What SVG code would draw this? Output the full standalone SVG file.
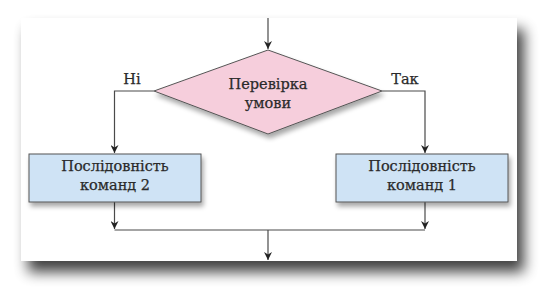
<svg xmlns="http://www.w3.org/2000/svg" width="542" height="300" viewBox="0 0 542 300">
  <defs>
    <filter id="panelShadow" x="-10%" y="-15%" width="125%" height="145%">
      <feGaussianBlur in="SourceAlpha" stdDeviation="7"/>
      <feOffset dx="7" dy="11" result="b"/>
      <feComponentTransfer><feFuncA type="linear" slope="0.75"/></feComponentTransfer>
      <feMerge><feMergeNode/><feMergeNode in="SourceGraphic"/></feMerge>
    </filter>
    <filter id="shapeShadow" x="-10%" y="-10%" width="130%" height="150%">
      <feGaussianBlur in="SourceAlpha" stdDeviation="2.5"/>
      <feOffset dx="2" dy="4" result="b"/>
      <feComponentTransfer><feFuncA type="linear" slope="0.35"/></feComponentTransfer>
      <feMerge><feMergeNode/><feMergeNode in="SourceGraphic"/></feMerge>
    </filter>
    <marker id="arrow" viewBox="0 0 10 10" refX="10" refY="5" markerWidth="8" markerHeight="8" markerUnits="userSpaceOnUse" orient="auto">
      <path d="M0,0 L10,5 L0,10 L3,5 Z" fill="#222"/>
    </marker>
  </defs>
  <style>
    .conn { fill: none; stroke: #4a4a4a; stroke-width: 1.2; }
    .lbl { font-family: "DejaVu Serif", "Liberation Serif", serif; font-size: 14.5px; fill: #2a2a2a; stroke: #2a2a2a; stroke-width: 0.25; text-anchor: middle; }
    .box { fill: #cfe3f5; stroke: #555; stroke-width: 1; }
    .dia { fill: #f6cedc; stroke: #555; stroke-width: 1; }
  </style>
  <rect x="0" y="0" width="542" height="300" fill="#ffffff"/>
  <rect id="panel" x="21" y="18" width="496" height="243" fill="#ffffff" filter="url(#panelShadow)"/>

  <g id="connectors">
    <path class="conn" d="M268,18 V49" marker-end="url(#arrow)"/>
    <path class="conn" d="M154,91 H114.5 V153" marker-end="url(#arrow)"/>
    <path class="conn" d="M382,91 H425 V153" marker-end="url(#arrow)"/>
    <path class="conn" d="M114.5,202 V229" marker-end="url(#arrow)"/>
    <path class="conn" d="M425,202 V229" marker-end="url(#arrow)"/>
    <path class="conn" d="M114.5,230 H425"/>
    <path class="conn" d="M268,230 V260" marker-end="url(#arrow)"/>
    <text class="lbl" x="132" y="84">Ні</text>
    <text class="lbl" x="405" y="84">Так</text>
  </g>

  <g id="decision">
    <polygon class="dia" points="268,50 382,91 268,134 154,91" filter="url(#shapeShadow)"/>
    <text class="lbl" x="268" y="89">Перевірка</text>
    <text class="lbl" x="268" y="108">умови</text>
  </g>

  <g id="seq2">
    <rect class="box" x="29" y="154" width="172" height="48" filter="url(#shapeShadow)"/>
    <text class="lbl" x="115" y="171">Послідовність</text>
    <text class="lbl" x="115" y="190">команд 2</text>
  </g>

  <g id="seq1">
    <rect class="box" x="336" y="154" width="172" height="48" filter="url(#shapeShadow)"/>
    <text class="lbl" x="422" y="171">Послідовність</text>
    <text class="lbl" x="422" y="190">команд 1</text>
  </g>
</svg>
